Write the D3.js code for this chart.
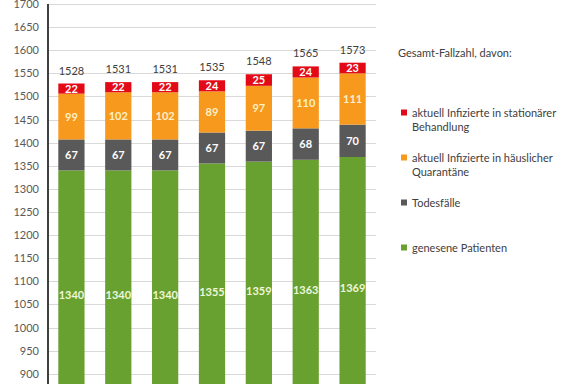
<!DOCTYPE html>
<html>
<head>
<meta charset="utf-8">
<script src="https://cdn.jsdelivr.net/npm/d3@7"></script>
<style>
  body { margin: 0; background: #fff; }
  svg { font-family: Lato, "Open Sans", sans-serif; }
</style>
</head>
<body>
<div class="canvas"></div>
<script>
// data (one entry per day, dates not shown in the crop)
const days = ['d1', 'd2', 'd3', 'd4', 'd5', 'd6', 'd7'];
const genesen = [1340, 1340, 1340, 1355, 1359, 1363, 1369];
const todesfaelle = [67, 67, 67, 67, 67, 68, 70];
const quarantaene = [99, 102, 102, 89, 97, 110, 111];
const stationaer = [22, 22, 22, 24, 25, 24, 23];
const gesamt = [1528, 1531, 1531, 1535, 1548, 1565, 1573];
const yTicks = d3.range(900, 1701, 50);

const seriesNames = ['genesen', 'todesfaelle', 'quarantaene', 'stationaer'];
const seriesVals = { genesen, todesfaelle, quarantaene, stationaer };
const colour = { genesen: '#68a12f', todesfaelle: '#595959', quarantaene: '#f7991c', stationaer: '#e30a17' };

const legendItems = [
  { key: 'stationaer', lines: ['aktuell Infizierte in stationärer', 'Behandlung'], y: 113 },
  { key: 'quarantaene', lines: ['aktuell Infizierte in häuslicher', 'Quarantäne'], y: 158 },
  { key: 'todesfaelle', lines: ['Todesfälle'], y: 203 },
  { key: 'genesen', lines: ['genesene Patienten'], y: 248 }
];

const width = 576, height = 384;

const svg = d3.select('.canvas')
  .append('svg')
  .attr('width', width)
  .attr('height', height);

// axis min sits below the visible crop
const y = d3.scaleLinear().domain([800, 1700]).range([420, 4]);
const x = d3.scaleBand().domain(days).range([48, 376]).paddingInner(0.44).paddingOuter(0.22);

// gridlines
svg.append('g')
  .selectAll('line')
  .data(yTicks)
  .enter().append('line')
  .attr('x1', 48).attr('x2', 376)
  .attr('y1', d => Math.round(y(d)) + 0.5)
  .attr('y2', d => Math.round(y(d)) + 0.5)
  .attr('stroke', '#d9d9d9');

// tick labels
const yAxis = d3.axisLeft(y).tickValues(yTicks).tickFormat(d3.format('d')).tickSize(0).tickPadding(9);
const ga = svg.append('g').attr('transform', 'translate(48,0)').call(yAxis);
ga.select('.domain').remove();
ga.selectAll('text').attr('fill', '#595959').style('font-size', '11px').style('font-family', 'Lato, sans-serif');

// stacking
const rows = days.map((d, i) => {
  const r = { day: d };
  seriesNames.forEach(s => r[s] = seriesVals[s][i]);
  return r;
});
const stack = d3.stack().keys(seriesNames)(rows);

const layers = svg.append('g')
  .selectAll('g')
  .data(stack)
  .enter().append('g')
  .attr('fill', d => colour[d.key]);

layers.selectAll('rect')
  .data(d => d)
  .enter().append('rect')
  .attr('x', d => x(d.data.day))
  .attr('width', x.bandwidth())
  .attr('y', d => y(d[1]))
  .attr('height', d => y(d[0]) - y(d[1]));

// segment labels
layers.selectAll('text')
  .data(d => d.map(p => ({ p, key: d.key })))
  .enter().append('text')
  .attr('x', d => x(d.p.data.day) + x.bandwidth() / 2)
  .attr('y', d => y(d.key === 'genesen' ? (800 + d.p[1]) / 2 : (d.p[0] + d.p[1]) / 2))
  .attr('dy', '0.36em')
  .attr('text-anchor', 'middle')
  .attr('fill', d => d.key === 'quarantaene' ? '#fdf0c8' : (d.key === 'genesen' ? '#eef7dc' : '#fff'))
  .style('font-size', '11px')
  .style('font-weight', 'bold')
  .text(d => d.p.data[d.key]);

// totals
svg.append('g')
  .selectAll('text')
  .data(days)
  .enter().append('text')
  .attr('x', d => x(d) + x.bandwidth() / 2)
  .attr('y', (d, i) => y(gesamt[i]) - 9)
  .attr('text-anchor', 'middle')
  .attr('fill', '#404040')
  .style('font-size', '11px')
  .text((d, i) => gesamt[i]);

// axis line
svg.append('line')
  .attr('x1', 48).attr('x2', 48)
  .attr('y1', 4).attr('y2', height)
  .attr('stroke', '#404040')
  .attr('stroke-width', 2);

// legend
svg.append('text')
  .attr('x', 398).attr('y', 57)
  .attr('fill', '#404040')
  .style('font-size', '11px')
  .text('Gesamt-Fallzahl, davon:');

const lg = svg.append('g')
  .selectAll('g')
  .data(legendItems)
  .enter().append('g')
  .attr('transform', d => `translate(401, ${d.y})`);

lg.append('rect')
  .attr('x', 0).attr('y', -3.5)
  .attr('width', 6).attr('height', 6)
  .attr('fill', d => colour[d.key]);

lg.append('text')
  .attr('x', 11)
  .attr('fill', '#404040')
  .style('font-size', '11px')
  .selectAll('tspan')
  .data(d => d.lines)
  .enter().append('tspan')
  .attr('x', 11)
  .attr('y', (d, i) => i * 14 + 4)
  .text(d => d);
</script>
</body>
</html>
